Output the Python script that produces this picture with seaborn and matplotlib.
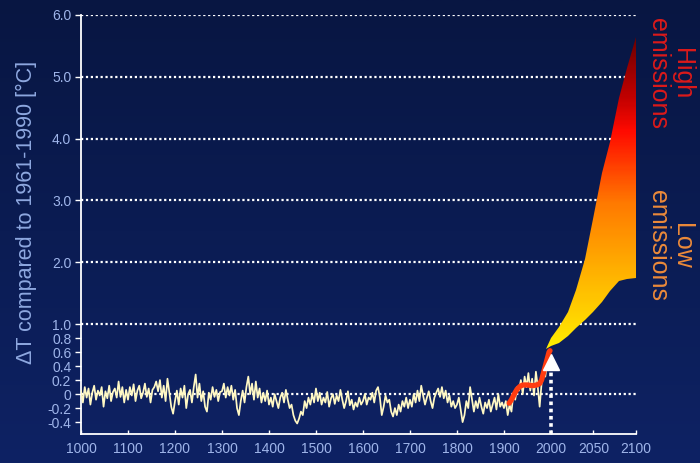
import numpy as np
import pandas as pd
import matplotlib
matplotlib.use("Agg")
import matplotlib.pyplot as plt
from matplotlib.colors import LinearSegmentedColormap
import seaborn as sns

# reconstructed / measured temperature anomaly, every 4 years from 1000
hist_years = np.arange(1000, 2000, 4)
hist_values = np.array(
    [0.05, -0.12, 0.1, -0.05, 0.08, -0.15, 0.02, 0.12, -0.08, 0.05, -0.02, 0.1, -0.18, 0.04, -0.06, 0.12, -0.1, 0.03, 0.08, -0.05, 0.18, -0.04, 0.1, -0.12, 0.06]
    + [-0.08, 0.1, -0.02, 0.14, -0.1, 0.05, 0.12, -0.06, 0.02, 0.15, -0.04, 0.08, -0.12, 0.06, 0.1, 0.18, 0.04, 0.2, -0.05, 0.12, -0.1, 0.22, 0.02, -0.18, -0.28]
    + [-0.1, 0.05, -0.15, 0.08, -0.05, 0.12, -0.2, 0.0, 0.06, -0.12, 0.1, 0.28, -0.05, 0.15, -0.1, 0.04, -0.18, -0.25, 0.02, -0.08, 0.1, -0.04, 0.06, -0.1, 0.03]
    + [0.04, 0.15, -0.05, 0.1, -0.02, 0.12, -0.08, 0.06, -0.2, -0.3, -0.1, 0.05, -0.12, 0.1, 0.25, 0.0, 0.15, -0.08, 0.18, -0.05, 0.08, -0.12, 0.02, -0.1, 0.05]
    + [-0.15, -0.05, -0.18, 0.0, -0.1, -0.2, -0.05, 0.02, -0.12, 0.06, -0.08, -0.2, -0.15, -0.3, -0.38, -0.42, -0.35, -0.25, -0.3, -0.1, -0.2, -0.05, -0.15, 0.0, -0.12]
    + [0.08, -0.1, 0.02, -0.15, -0.05, -0.12, 0.03, -0.18, -0.06, 0.0, -0.14, -0.02, -0.1, 0.06, -0.08, -0.2, -0.1, 0.04, -0.16, -0.08, -0.22, -0.12, -0.18, -0.05, -0.15]
    + [-0.1, 0.0, -0.15, -0.05, -0.08, 0.02, -0.12, 0.05, 0.1, -0.05, -0.3, -0.18, -0.02, -0.12, -0.08, -0.25, -0.32, -0.2, -0.3, -0.15, -0.25, -0.1, -0.18, -0.05, -0.2]
    + [-0.08, -0.18, 0.0, -0.12, 0.05, -0.1, 0.12, -0.02, -0.15, -0.05, 0.04, -0.1, -0.2, -0.05, 0.02, 0.08, -0.04, 0.1, -0.06, 0.05, -0.12, -0.02, -0.18, -0.1, -0.2]
    + [-0.15, -0.05, -0.22, -0.4, -0.3, -0.1, -0.2, 0.1, -0.08, -0.25, -0.1, -0.2, -0.05, -0.18, -0.28, -0.12, -0.2, -0.08, -0.25, -0.15, -0.05, -0.22, 0.0, -0.18, -0.12]
    + [-0.2, -0.1, -0.3, -0.15, -0.25, 0.0, -0.08, 0.1, 0.05, 0.2, 0.0, 0.25, 0.1, 0.3, 0.05, 0.22, -0.02, 0.32, 0.1, -0.18, 0.15, 0.3, 0.25, 0.45, 0.6]
)

# smoothed instrumental record
smooth_years = [1911, 1916, 1922, 1928, 1934, 1940, 1950, 1960, 1970, 1976, 1980, 1984, 1988, 1992, 1996, 1998]
smooth_values = [-0.13, -0.08, 0.0, 0.07, 0.11, 0.13, 0.13, 0.12, 0.13, 0.15, 0.2, 0.3, 0.4, 0.5, 0.6, 0.62]

# projection envelope
fan_years = [1990, 2000, 2010, 2020, 2030, 2040, 2050, 2060, 2070, 2080, 2090, 2100]
fan_high = [0.65, 0.80, 0.96, 1.2, 1.55, 2.05, 2.7, 3.45, 3.95, 4.65, 5.15, 5.65]
fan_low = [0.65, 0.68, 0.73, 0.83, 0.94, 1.06, 1.2, 1.35, 1.53, 1.70, 1.73, 1.74]

marker_year = 2000
marker_value = 0.46

x_ticks = [1000, 1100, 1200, 1300, 1400, 1500, 1600, 1700, 1800, 1900, 2000, 2050, 2100]
y_ticks = [-0.4, -0.2, 0, 0.2, 0.4, 0.6, 0.8, 1, 2, 3, 4, 5, 6]
y_labels = ["-0.4", "-0.2", "0", "0.2", "0.4", "0.6", "0.8", "1.0", "2.0", "3.0", "4.0", "5.0", "6.0"]

sns.set_theme(style="dark")
plt.rcParams["font.family"] = ["Liberation Sans", "DejaVu Sans"]

TICK_COL = "#9fb5ea"

# piecewise axes: future century stretched, band below 1 degree stretched
XS = 1.81
K = 70 / 61.8


def fx(x):
    x = np.asarray(x, dtype=float)
    return np.where(x <= 2000, x, 2000 + (x - 2000) * XS)


def ifx(u):
    u = np.asarray(u, dtype=float)
    return np.where(u <= 2000, u, 2000 + (u - 2000) / XS)


def fy(y):
    y = np.asarray(y, dtype=float)
    return np.where(y <= 1, y * K, K + (y - 1))


def ify(v):
    v = np.asarray(v, dtype=float)
    return np.where(v <= K, v / K, 1 + (v - K))


fig = plt.figure(figsize=(7, 4.63), dpi=100)

# background gradient
bg = fig.add_axes([0, 0, 1, 1], zorder=-5)
bg_cmap = LinearSegmentedColormap.from_list("bg", ["#081642", "#0e2264"])
bg.imshow(np.linspace(0, 1, 256).reshape(-1, 1), aspect="auto", cmap=bg_cmap, extent=[0, 1, 0, 1])
bg.set_axis_off()

ax = fig.add_axes([81 / 700, 29 / 463, 555 / 700, 419 / 463])
ax.set_facecolor("none")
ax.set_xscale("function", functions=(fx, ifx))
ax.set_yscale("function", functions=(fy, ify))
ax.set_xlim(1000, 2100)
ax.set_ylim(-0.57, 6.0)

# dotted grid lines
for g in [0, 1, 2, 3, 4, 5, 6]:
    ax.axhline(g, color="white", lw=1.6, ls=(0, (1, 1.2)), zorder=1)

# fan with vertical colour gradient
fan_cmap = LinearSegmentedColormap.from_list(
    "fan",
    [(0.0, "#fff200"), (0.08, "#ffd800"), (0.27, "#ffaa00"), (0.46, "#ff7a00"),
     (0.57, "#ff4400"), (0.69, "#ff0a00"), (0.80, "#c00000"), (1.0, "#680000")])
poly = ax.fill_between(fan_years, fan_low, fan_high, facecolor="none", edgecolor="none")
gy = np.linspace(0.55, 5.8, 300)
cvals = ((gy[:-1] + gy[1:]) / 2).reshape(-1, 1)
mesh = ax.pcolormesh([1988, 2100], gy, cvals, cmap=fan_cmap, vmin=0.6, vmax=5.7, zorder=3, shading="flat")
mesh.set_clip_path(poly.get_paths()[0], ax.transData)

hist = pd.DataFrame({"year": hist_years, "dT": hist_values})
sns.lineplot(data=hist, x="year", y="dT", ax=ax, color="#fff8c4", lw=1.25, zorder=4)
sns.lineplot(x=smooth_years, y=smooth_values, ax=ax, color="#ff3c10", lw=3.8, zorder=5,
             solid_capstyle="round")

ax.plot([marker_year, marker_year], [-0.57, marker_value - 0.07], color="white", lw=2.6,
        ls=(0, (1, 1)), zorder=5)
ax.plot([marker_year], [marker_value], marker="^", color="white", ms=11, zorder=6)

ax.set_xticks(x_ticks)
ax.set_xticklabels([str(t) for t in x_ticks])
ax.set_yticks(y_ticks)
ax.set_yticklabels(y_labels)
ax.minorticks_off()
ax.tick_params(axis="x", direction="in", length=3, width=1, color="white", labelsize=10,
               labelcolor=TICK_COL, pad=6, bottom=True)
ax.tick_params(axis="y", direction="out", length=4, width=1, color="white", labelsize=10,
               labelcolor=TICK_COL, pad=3, left=True)
ax.set_xlabel("")
ax.set_ylabel("")
ax.grid(False)
for side in ["top", "right"]:
    ax.spines[side].set_visible(False)
for side in ["left", "bottom"]:
    ax.spines[side].set_color("white")
    ax.spines[side].set_linewidth(1.3)

fig.text(26 / 700, 1 - 212 / 463, "ΔT compared to 1961-1990 [°C]", rotation=90, ha="center",
         va="center", fontsize=15.5, color="#8ea8e0")
fig.text(670 / 700, 1 - 74 / 463, "High\nemissions", rotation=270, ha="center", va="center",
         multialignment="center", fontsize=18, color="#dc1a1a", linespacing=1.05)
fig.text(670 / 700, 1 - 246 / 463, "Low\nemissions", rotation=270, ha="center", va="center",
         multialignment="center", fontsize=18, color="#ec8a3a", linespacing=1.05)

fig.savefig("out.png", dpi=100)
